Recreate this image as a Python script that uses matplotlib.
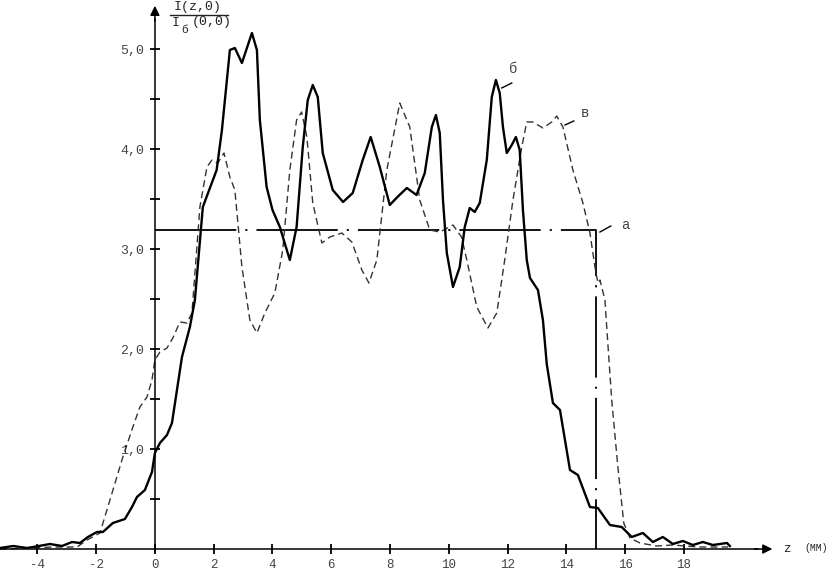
# Intensity distribution I(z,0)/I_б(0,0) along z, curves а, б, в

import numpy as np
import matplotlib.pyplot as plt

# Data ........................................................................
# curve б (solid)
z_b = [-5.27, -4.82, -4.35, -3.95, -3.57, -3.16, -2.82, -2.55, -2.28, -1.97,
       -1.77, -1.43, -1.02, -0.78, -0.61, -0.34, -0.10, 0.00, 0.17, 0.41,
       0.58, 0.75, 0.92, 1.19, 1.36, 1.63, 2.10, 2.28, 2.55, 2.72,
       2.96, 3.30, 3.47, 3.57, 3.80, 4.00, 4.25, 4.59, 4.82, 5.03,
       5.20, 5.37, 5.54, 5.71, 6.05, 6.40, 6.73, 7.07, 7.34, 7.65,
       7.99, 8.25, 8.57, 8.90, 9.18, 9.42, 9.56, 9.69, 9.80, 9.93,
       10.14, 10.37, 10.54, 10.71, 10.88, 11.05, 11.29, 11.46, 11.60, 11.73,
       11.84, 11.97, 12.14, 12.28, 12.41, 12.52, 12.65, 12.76, 13.03, 13.20,
       13.33, 13.54, 13.78, 14.12, 14.39, 14.80, 15.07, 15.48, 15.88, 16.22,
       16.60, 16.94, 17.28, 17.62, 17.96, 18.30, 18.64, 18.98, 19.46, 19.56]
v_b = [0.01, 0.03, 0.01, 0.03, 0.05, 0.03, 0.07, 0.06, 0.12, 0.17,
       0.17, 0.26, 0.30, 0.42, 0.52, 0.59, 0.77, 0.96, 1.06, 1.14,
       1.26, 1.59, 1.92, 2.22, 2.49, 3.42, 3.79, 4.19, 4.99, 5.01,
       4.86, 5.16, 4.99, 4.29, 3.62, 3.39, 3.22, 2.89, 3.22, 4.02,
       4.49, 4.64, 4.52, 3.96, 3.59, 3.47, 3.56, 3.89, 4.12, 3.82,
       3.44, 3.52, 3.61, 3.54, 3.76, 4.22, 4.34, 4.16, 3.49, 2.96,
       2.62, 2.82, 3.22, 3.41, 3.37, 3.46, 3.89, 4.52, 4.69, 4.56,
       4.22, 3.96, 4.04, 4.12, 3.99, 3.39, 2.89, 2.71, 2.59, 2.29,
       1.85, 1.46, 1.39, 0.79, 0.74, 0.42, 0.41, 0.24, 0.22, 0.12,
       0.16, 0.07, 0.12, 0.05, 0.08, 0.04, 0.07, 0.04, 0.06, 0.03]

# curve в (dashed)
z_v = [-5.27, -4.15, -3.47, -2.65, -2.31, -1.87, -1.53, -1.09, -0.75, -0.51,
       -0.27, -0.10, 0.00, 0.17, 0.41, 0.61, 0.85, 1.09, 1.26, 1.53,
       1.77, 1.94, 2.14, 2.35, 2.55, 2.72, 2.96, 3.23, 3.47, 3.74,
       4.08, 4.35, 4.59, 4.82, 4.99, 5.17, 5.37, 5.68, 5.95, 6.36,
       6.70, 7.04, 7.28, 7.55, 7.89, 8.33, 8.67, 9.01, 9.35, 9.69,
       10.14, 10.43, 10.61, 10.95, 11.33, 11.63, 11.90, 12.18, 12.48, 12.65,
       12.86, 13.20, 13.50, 13.67, 13.88, 14.22, 14.56, 14.80, 14.97, 15.07,
       15.14, 15.31, 15.37, 15.54, 15.75, 15.95, 16.16, 16.50, 17.07, 17.60,
       18.50, 19.50]
v_v = [0.00, 0.01, 0.02, 0.02, 0.09, 0.16, 0.49, 0.92, 1.22, 1.42,
       1.52, 1.69, 1.89, 1.97, 2.01, 2.11, 2.27, 2.26, 2.36, 3.42,
       3.82, 3.89, 3.86, 3.96, 3.72, 3.59, 2.82, 2.29, 2.16, 2.36,
       2.56, 2.99, 3.79, 4.29, 4.37, 4.12, 3.46, 3.06, 3.12, 3.16,
       3.07, 2.79, 2.66, 2.89, 3.79, 4.46, 4.22, 3.49, 3.19, 3.17,
       3.24, 3.12, 2.89, 2.42, 2.21, 2.36, 2.89, 3.49, 4.02, 4.27,
       4.27, 4.21, 4.27, 4.33, 4.22, 3.79, 3.46, 3.16, 2.82, 2.66,
       2.69, 2.49, 2.22, 1.49, 0.82, 0.26, 0.11, 0.06, 0.03, 0.04,
       0.02, 0.02]

# curve а (ideal rectangular profile)
z_a = [0.0, 15.0, 15.0]
v_a = [3.19, 3.19, 0.0]

x_ticks = [-4, -2, 0, 2, 4, 6, 8, 10, 12, 14, 16, 18]
y_ticks = [0.5, 1.0, 1.5, 2.0, 2.5, 3.0, 3.5, 4.0, 4.5, 5.0]
y_labels = ["", "1,0", "", "2,0", "", "3,0", "", "4,0", "", "5,0"]


# Plot ........................................................................
fig = plt.figure(figsize = (8.31, 5.70), dpi = 100)
ax = fig.add_axes([0, 0, 1, 1])
ax.set_xlim(-5.27, 23.0)
ax.set_ylim(-0.21, 5.49)

mono = "Liberation Mono"
grey = "#444444"

# axes through the origin
for s in ["top", "right"]:
    ax.spines[s].set_visible(False)
ax.spines["left"].set_position(("data", 0))
ax.spines["bottom"].set_position(("data", 0))
ax.spines["left"].set_bounds(-0.02, 5.3)
ax.spines["bottom"].set_bounds(-5.27, 20.5)
ax.spines["left"].set_linewidth(1.1)
ax.spines["bottom"].set_linewidth(1.1)
ax.annotate("", xy = (21.1, 0), xytext = (20.3, 0),
            arrowprops = dict(arrowstyle = "-|>", color = "k", lw = 1.1, mutation_scale = 14))
ax.annotate("", xy = (0, 5.46), xytext = (0, 5.25),
            arrowprops = dict(arrowstyle = "-|>", color = "k", lw = 1.1, mutation_scale = 14))

ax.set_xticks(x_ticks)
ax.set_xticklabels([str(t) for t in x_ticks], family = mono, color = grey, fontsize = 9)
ax.set_yticks(y_ticks)
ax.set_yticklabels(y_labels, family = mono, color = grey, fontsize = 9.5)
ax.tick_params(axis = "both", direction = "inout", length = 7, width = 1.3)
ax.tick_params(axis = "x", pad = 4)
ax.tick_params(axis = "y", pad = 4)

# curves
ax.plot(z_a, v_a, color = "k", lw = 1.3, dashes = (45, 5, 1.2, 5))
ax.plot(z_v, v_v, color = "#333333", lw = 1.0, dashes = (5, 3))
ax.plot(z_b, v_b, color = "k", lw = 1.7)

# curve labels with leaders
ax.plot([11.8, 12.14], [4.61, 4.66], color = "k", lw = 1.0)
ax.text(12.05, 4.8, "б", family = mono, fontsize = 10, color = grey, ha = "left", va = "center")
ax.plot([13.95, 14.25], [4.24, 4.28], color = "k", lw = 1.0)
ax.text(14.5, 4.36, "в", family = mono, fontsize = 10, color = grey, ha = "left", va = "center")
ax.plot([15.14, 15.51], [3.17, 3.23], color = "k", lw = 1.0)
ax.text(15.85, 3.24, "а", family = mono, fontsize = 10, color = grey, ha = "left", va = "center")

# axis titles
W, H = 831.0, 570.0
fig.text(198 / W, 1 - 7 / H, "I(z,0)", family = mono, fontsize = 9.5, color = "#222222",
         ha = "center", va = "center")
fig.add_artist(plt.Line2D([170 / W, 228 / W], [1 - 15 / H, 1 - 15 / H], color = "#222222", lw = 1.0))
fig.text(176 / W, 1 - 23 / H, "I", family = mono, fontsize = 9.5, color = "#222222",
         ha = "center", va = "center")
fig.text(185 / W, 1 - 30 / H, "б", family = mono, fontsize = 8, color = "#222222",
         ha = "center", va = "center")
fig.text(212 / W, 1 - 22 / H, "(0,0)", family = mono, fontsize = 9.5, color = "#222222",
         ha = "center", va = "center")
fig.text(787 / W, 1 - 549 / H, "z", family = mono, fontsize = 9, color = "#222222",
         ha = "center", va = "center")
fig.text(816 / W, 1 - 548 / H, "(ММ)", family = mono, fontsize = 7, color = "#222222",
         ha = "center", va = "center")

fig.savefig("out.png", dpi = 100)
